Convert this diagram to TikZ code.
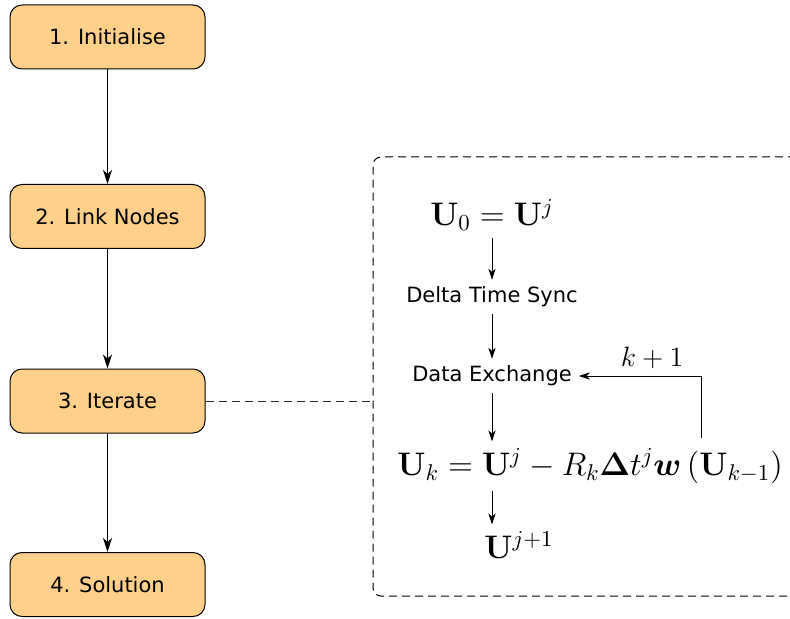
\RequirePackage{fix-cm}
\documentclass[tikz,border=0pt]{standalone}
\usepackage{amsmath}
\usepackage[no-math]{fontspec}
\setmainfont{DejaVu Sans}
\usetikzlibrary{arrows.meta}
\definecolor{boxfill}{RGB}{255,208,138}

\begin{document}
\begin{tikzpicture}[x=0.5pt, y=-0.5pt, every node/.style={font=\fontsize{10.5}{12.6}\selectfont},
	stepbox/.style={draw, line width=0.5pt, fill=boxfill, rounded corners=6pt, minimum width=97.5pt, minimum height=32pt},
	frame/.style={draw=black, dash pattern=on 4pt off 2.5pt, line width=0.5pt, rounded corners=4pt, minimum width=228.5pt, minimum height=219.5pt},
	arr/.style={-{Stealth[length=7pt, width=4.5pt, inset=2pt]}, line width=0.5pt},
	sarr/.style={-{Stealth[length=5.5pt, width=3.6pt, inset=1.6pt]}, line width=0.45pt},
	eqn/.style={font=\fontsize{16.3}{19.5}\selectfont}]
	\clip (0,0) rectangle (790,619);
	% main steps
	\node[stepbox] (init) at (107.5,37) {1. Initialise};
	\node[stepbox] (link) at (107.5,216.5) {2. Link Nodes};
	\node[stepbox] (iter) at (107.5,401) {3. Iterate};
	\node[stepbox] (sol) at (107.5,584.5) {4. Solution};
	\foreach \a/\b in {init/link, link/iter, iter/sol} {\draw[arr] (\a) -- (\b);}
	% detail of the iteration
	\node[frame] (detail) at (601.5,376.5) {};
	\draw[black!85, dash pattern=on 4pt off 2.5pt, line width=0.45pt] (iter) -- (iter -| detail.west);
	\node[eqn] (u0) at (492,215) {$\mathbf{U}_0=\mathbf{U}^j$};
	\node (sync) at (492,297) {Delta Time Sync};
	\node (exch) at (492,376) {Data Exchange};
	\node[eqn] (upd) at (590,466) {$\mathbf{U}_k=\mathbf{U}^j-R_k\boldsymbol{\Delta}t^j\boldsymbol{w}\left(\mathbf{U}_{k-1}\right)$};
	\node[eqn] (unext) at (519,545) {$\mathbf{U}^{j+1}$};
	\coordinate (fb) at (701,438);
	\draw[sarr] (u0) -- (sync);
	\draw[sarr] (sync) -- (exch);
	\draw[sarr] (exch) -- (exch |- upd.north);
	\draw[sarr] (exch |- upd.south) -- (exch |- unext.north);
	\draw[sarr] (fb) |- (exch) node[pos=0.7, above, font=\fontsize{14}{17}\selectfont] {$k+1$};
\end{tikzpicture}
\end{document}
